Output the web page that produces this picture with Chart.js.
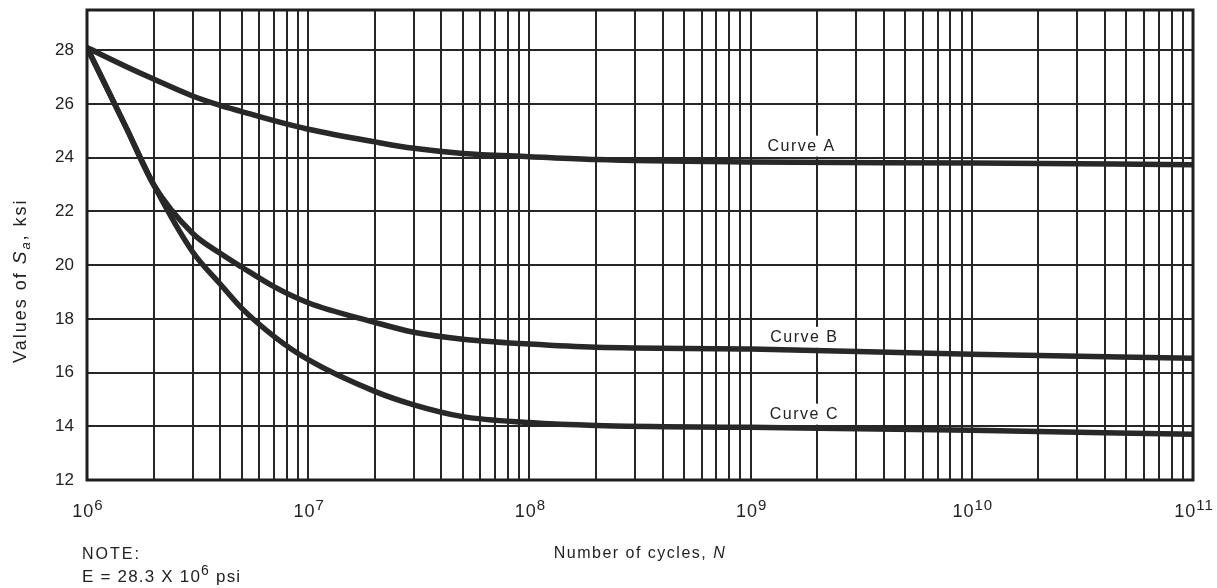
<!DOCTYPE html>
<html>
<head>
<meta charset="utf-8">
<script src="https://cdn.jsdelivr.net/npm/chart.js@4.4.1/dist/chart.umd.min.js"></script>
<style>
body { margin: 0; background: #fff; }
</style>
</head>
<body>
<canvas id="sn-chart" width="1217" height="588"></canvas>
<script>
// values (x on a log axis)
var cycles = [1e6, 1.5e6, 2e6, 3e6, 4e6, 5e6, 7e6, 1e7, 2e7, 3e7, 5e7, 1e8, 2e8, 1e9, 1e10, 1e11];
var curveA = [28.1, 27.4, 26.93, 26.3, 25.95, 25.72, 25.38, 25.06, 24.59, 24.35, 24.16, 24.04, 23.93, 23.84, 23.8, 23.74];
var curveB = [28.1, 25.14, 23.0, 21.19, 20.44, 19.93, 19.2, 18.6, 17.87, 17.5, 17.24, 17.06, 16.94, 16.88, 16.68, 16.53];
var curveC = [28.1, 25.14, 23.0, 20.5, 19.3, 18.4, 17.35, 16.48, 15.3, 14.8, 14.36, 14.14, 14.03, 13.96, 13.85, 13.7];

var curveNames = ['Curve A', 'Curve B', 'Curve C'];
var labelCycles = [1.7e9, 1.75e9, 1.75e9];
var labelValues = [24.45, 17.33, 14.47];

var decades = [6, 7, 8, 9, 10, 11];
var yTicks = [12, 14, 16, 18, 20, 22, 24, 26, 28];

var FONT = '"Liberation Sans", Arial, sans-serif';
var INK = '#222';

function toPoints(ys) {
    return cycles.map(function(c, i) { return { x: c, y: ys[i] }; });
}

function lineSet(name, ys) {
    return {
        label: name,
        data: toPoints(ys),
        borderColor: '#282828',
        borderWidth: 5.5,
        pointRadius: 0,
        fill: false,
        cubicInterpolationMode: 'monotone'
    };
}

// draws text pieces one after another, returns the end x
function pieces(ctx, parts, x, y) {
    parts.forEach(function(p) {
        ctx.font = (p.style || '') + ' ' + p.size + 'px ' + FONT;
        ctx.fillText(p.text, x, y + (p.dy || 0));
        x += ctx.measureText(p.text).width;
    });
    return x;
}

function piecesWidth(ctx, parts) {
    var w = 0;
    parts.forEach(function(p) {
        ctx.font = (p.style || '') + ' ' + p.size + 'px ' + FONT;
        w += ctx.measureText(p.text).width;
    });
    return w;
}

function powerParts(exp, size) {
    return [{ text: '10', size: size }, { text: String(exp), size: size - 3, dy: -7 }];
}

var chartText = {
    id: 'chartText',
    beforeDatasetsDraw: function(chart) {
        var ctx = chart.ctx;
        var xs = chart.scales.x, ys = chart.scales.y;
        ctx.save();
        ctx.letterSpacing = '1.5px';
        ctx.font = '16px ' + FONT;
        ctx.textAlign = 'center';
        ctx.textBaseline = 'middle';
        curveNames.forEach(function(name, i) {
            var px = xs.getPixelForValue(labelCycles[i]);
            var py = ys.getPixelForValue(labelValues[i]);
            var w = ctx.measureText(name).width;
            ctx.fillStyle = '#fff';
            ctx.fillRect(px - w / 2 - 6, py - 10, w + 12, 21);
            ctx.fillStyle = INK;
            ctx.fillText(name, px, py + 1);
        });
        ctx.restore();
    },
    afterDatasetsDraw: function(chart) {
        var ctx = chart.ctx;
        var a = chart.chartArea;
        var xs = chart.scales.x;
        ctx.save();

        // frame round the plot
        ctx.strokeStyle = '#1e1e1e';
        ctx.lineWidth = 3;
        ctx.strokeRect(a.left, a.top, a.right - a.left, a.bottom - a.top);

        ctx.fillStyle = INK;
        ctx.textBaseline = 'alphabetic';
        ctx.textAlign = 'left';
        ctx.letterSpacing = '1px';

        // decade labels 10^n
        decades.forEach(function(d) {
            var parts = powerParts(d, 18);
            var w = piecesWidth(ctx, parts);
            var cx = xs.getPixelForValue(Math.pow(10, d));
            pieces(ctx, parts, cx - w / 2 + 1, 517);
        });

        // x title
        ctx.letterSpacing = '1.5px';
        var xt = [{ text: 'Number of cycles, ', size: 16 }, { text: 'N', size: 16, style: 'italic' }];
        var xw = piecesWidth(ctx, xt);
        pieces(ctx, xt, (a.left + a.right) / 2 - xw / 2, 558);

        // note under the axis
        ctx.letterSpacing = '2px';
        pieces(ctx, [{ text: 'NOTE:', size: 16 }], 82, 559);
        ctx.letterSpacing = '1.2px';
        pieces(ctx, [
            { text: 'E = 28.3 X 10', size: 17 },
            { text: '6', size: 14, dy: -7 },
            { text: ' psi', size: 17 }
        ], 82, 582);

        // y title, rotated
        ctx.translate(26, 363);
        ctx.rotate(-Math.PI / 2);
        ctx.letterSpacing = '2px';
        pieces(ctx, [
            { text: 'Values of ', size: 18 },
            { text: 'S', size: 19, style: 'italic' },
            { text: 'a', size: 13, style: 'italic', dy: 4 },
            { text: ', ksi', size: 18 }
        ], 0, 0);

        ctx.restore();
    }
};

var gridStyle = { color: '#262626', lineWidth: 2, drawTicks: false };

new Chart(document.getElementById('sn-chart'), {
    type: 'line',
    data: {
        datasets: [
            lineSet('Curve A', curveA),
            lineSet('Curve B', curveB),
            lineSet('Curve C', curveC)
        ]
    },
    options: {
        responsive: false,
        animation: false,
        devicePixelRatio: 1,
        layout: { padding: { top: 10, right: 24, left: 0, bottom: 0 } },
        plugins: { legend: { display: false }, tooltip: { enabled: false } },
        scales: {
            x: {
                type: 'logarithmic',
                min: 1e6,
                max: 1e11,
                grid: gridStyle,
                border: { display: false },
                ticks: { display: false },
                afterBuildTicks: function(scale) {
                    var t = [];
                    decades.forEach(function(d) {
                        for (var s = 1; s <= 9; s++) {
                            var v = s * Math.pow(10, d);
                            if (v <= 1e11) t.push({ value: v });
                        }
                    });
                    scale.ticks = t;
                },
                afterFit: function(scale) {
                    scale.height = 108;
                    scale.paddingLeft = 0;
                    scale.paddingRight = 0;
                }
            },
            y: {
                type: 'linear',
                min: 12,
                max: 29.5,
                grid: gridStyle,
                border: { display: false },
                ticks: { color: INK, padding: 13, font: { size: 17, family: FONT } },
                afterBuildTicks: function(scale) {
                    scale.ticks = yTicks.map(function(v) { return { value: v }; });
                },
                afterFit: function(scale) {
                    scale.width = 87;
                    scale.paddingTop = 0;
                    scale.paddingBottom = 0;
                }
            }
        }
    },
    plugins: [chartText]
});
</script>
</body>
</html>
